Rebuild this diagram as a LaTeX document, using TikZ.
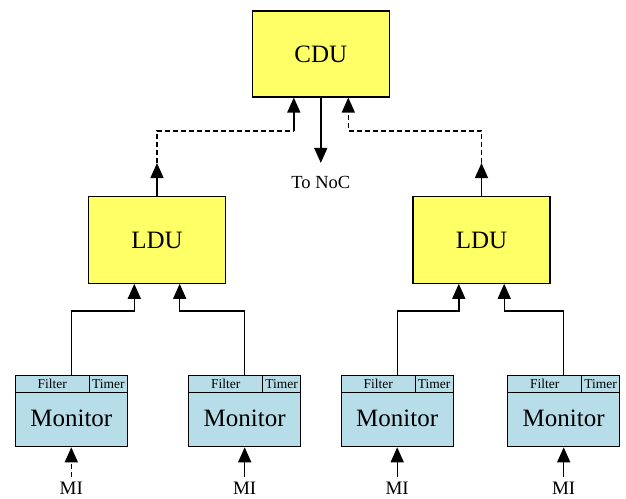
\documentclass[tikz,border=0pt]{standalone}
\usepackage{fontspec}
\setmainfont{Liberation Serif}
\usetikzlibrary{arrows.meta}
\definecolor{duyellow}{RGB}{255,255,102}
\definecolor{monblue}{RGB}{183,221,232}
\begin{document}
\begin{tikzpicture}[x=1pt,y=-1pt,
  box/.style={draw=black, line width=1.1pt, inner sep=0pt},
  dubox/.style={box, fill=duyellow, minimum width=137pt, minimum height=86pt,
    font=\fontsize{25}{30}\selectfont},
  monbody/.style={box, fill=monblue, minimum width=112pt, minimum height=71.5pt},
  hdrcell/.style={box, fill=monblue, minimum height=17pt,
    font=\fontsize{13.5}{15}\selectfont},
  montext/.style={inner sep=0pt, font=\fontsize{25}{30}\selectfont},
  milabel/.style={inner sep=0pt, outer ysep=5pt, font=\fontsize{19}{22}\selectfont},
  noclabel/.style={inner sep=0pt, outer ysep=12.8pt, font=\fontsize{18.5}{22}\selectfont},
  wire/.style={line width=1.4pt},
  link/.style={wire, -{Triangle[length=15pt,width=13pt]}},
  dsh/.style={dash pattern=on 5pt off 3pt}
]
\useasboundingbox (0,0) rectangle (626,498);

% central and local units
\node[dubox] (cdu) at (320.8,54) {CDU};
\node[dubox, minimum width=137.5pt, minimum height=86.5pt] (l1) at (157,240) {LDU};
\node[dubox, minimum height=86.5pt] (l2) at (481.5,240) {LDU};

% monitors with Filter / Timer header cells and their MI inputs
\foreach \i/\x in {1/71.3, 2/244.7, 3/397.2, 4/563.7} {
  \node[monbody] (m\i) at (\x,411) {};
  \node[hdrcell, minimum width=74pt, anchor=north west] (m\i f) at (m\i.north west) {Filter};
  \node[hdrcell, minimum width=38pt, anchor=north east] (m\i t) at (m\i.north east) {Timer};
  \node[montext, anchor=base] (m\i x) at (\x,426.7) {Monitor};
  \node[milabel, anchor=base] (mi\i) at (\x,494.5) {MI};
}

% MI inputs into the monitors
\draw[link, dsh] (mi1.north) -- (m1.south);
\draw[link] (mi2.north) -- (m2.south);
\draw[link] (mi3.north) -- (m3.south);
\draw[link] (mi4.north) -- (m4.south);

% monitors to local units
\coordinate (a1) at (134.3,311);
\coordinate (a2) at (179.7,311);
\coordinate (a3) at (458.8,311);
\coordinate (a4) at (504.2,311);
\draw[link] (m1.north) |- (a1) -- (a1 |- l1.south);
\draw[link] (m2.north) |- (a2) -- (a2 |- l1.south);
\draw[link] (m3.north) |- (a3) -- (a3 |- l2.south);
\draw[link] (m4.north) |- (a4) -- (a4 |- l2.south);

% local units to central unit
\coordinate (t1) at (157,163);
\coordinate (b1) at (157,131);
\coordinate (c1) at (293.8,131);
\draw[link] (l1.north) -- (t1);
\draw[wire, dsh] (t1) -- (b1) -- (c1);
\draw[link] (c1) -- (c1 |- cdu.south);

\coordinate (t2) at (481.5,163);
\coordinate (b2) at (481.5,131);
\coordinate (c2) at (348.3,131);
\draw[link] (l2.north) -- (t2);
\draw[link, dsh] (t2) -- (b2) -- (c2) -- (c2 |- cdu.south);

% output of the central unit
\node[noclabel, anchor=base] (noc) at (320.8,188) {To NoC};
\draw[link] (cdu.south) -- (noc.north);
\end{tikzpicture}
\end{document}
